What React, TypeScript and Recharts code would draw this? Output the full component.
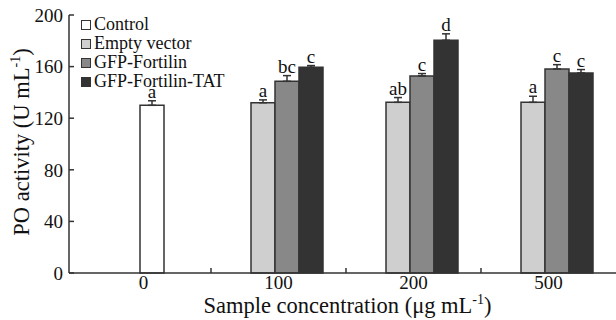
import {
  BarChart,
  Bar,
  XAxis,
  YAxis,
  ErrorBar,
  LabelList,
  Cell,
  Legend,
  Label,
} from "recharts";

const concentrations = ["0", "100", "200", "500"];

const control = [130, null, null, null];
const controlErr = [3.5, null, null, null];
const controlLetters = ["a", "", "", ""];

const emptyVector = [null, 132, 132.3, 132.3];
const emptyVectorErr = [null, 2.2, 3.7, 4.7];
const emptyVectorLetters = ["", "a", "ab", "a"];

const gfpFortilin = [null, 148.6, 152.8, 158.2];
const gfpFortilinErr = [null, 4.4, 1.8, 3.3];
const gfpFortilinLetters = ["", "bc", "c", "c"];

const gfpFortilinTat = [null, 159.5, 180.4, 155.1];
const gfpFortilinTatErr = [null, 1.3, 5, 2.6];
const gfpFortilinTatLetters = ["", "c", "d", "c"];

const yTicks = [0, 40, 80, 120, 160, 200];

const FONT = "Liberation Serif";
const INK = "#111";
const EDGE = "#333";

// control and GFP-Fortilin share the middle slot of each group
const midValues = concentrations.map((_, i) => control[i] ?? gfpFortilin[i]);
const midErr = concentrations.map((_, i) =>
  control[i] != null ? controlErr[i] : gfpFortilinErr[i]
);
const midLetters = concentrations.map(
  (_, i) => controlLetters[i] || gfpFortilinLetters[i]
);

const errPair = (e: number | null) => (e == null ? undefined : [0, e]);
const mark = (v: number | null, e: number | null, letter: string) =>
  v == null ? undefined : { v, e: e ?? 0, letter };

const data = concentrations.map((c, i) => ({
  conc: c,
  empty: emptyVector[i],
  emptyErr: errPair(emptyVectorErr[i]),
  emptyMark: mark(emptyVector[i], emptyVectorErr[i], emptyVectorLetters[i]),
  mid: midValues[i],
  midErr: errPair(midErr[i]),
  midMark: mark(midValues[i], midErr[i], midLetters[i]),
  tat: gfpFortilinTat[i],
  tatErr: errPair(gfpFortilinTatErr[i]),
  tatMark: mark(gfpFortilinTat[i], gfpFortilinTatErr[i], gfpFortilinTatLetters[i]),
}));

const legendItems = [
  { name: "Control", fill: "#ffffff" },
  { name: "Empty vector", fill: "#cfcfcf" },
  { name: "GFP-Fortilin", fill: "#888888" },
  { name: "GFP-Fortilin-TAT", fill: "#333333" },
];

const letterLabel = (props: any) => {
  const vb = props.viewBox ?? props;
  const m = props.value;
  if (!m || typeof m !== "object" || !m.letter) return null;
  const h = Math.abs(vb.height);
  const capY = vb.y - m.e * (h / m.v);
  return (
    <text
      x={vb.x + vb.width / 2}
      y={capY - 3}
      textAnchor="middle"
      fontSize={19}
      fontFamily={FONT}
      fill={INK}
    >
      {m.letter}
    </text>
  );
};

// category label plus a small inward tick on the right edge of each group
const XTick = (props: any) => {
  const { x, y, payload, index, visibleTicksCount } = props;
  const half = payload?.offset ?? 0;
  const last = index >= (visibleTicksCount ?? concentrations.length) - 1;
  return (
    <g>
      <text
        x={x}
        y={y + 3}
        dy="0.71em"
        textAnchor="middle"
        fontSize={19}
        fontFamily={FONT}
        fill={INK}
      >
        {payload.value}
      </text>
      {!last && half > 0 && (
        <line x1={x + half} x2={x + half} y1={y} y2={y - 5} stroke={EDGE} strokeWidth={1.5} />
      )}
    </g>
  );
};

const YTick = (props: any) => {
  const { x, y, payload } = props;
  return (
    <g>
      <text
        x={x}
        y={y}
        dy="0.355em"
        textAnchor="end"
        fontSize={19}
        fontFamily={FONT}
        fill={INK}
      >
        {payload.value}
      </text>
      <line x1={x + 6} x2={x + 11} y1={y} y2={y} stroke={EDGE} strokeWidth={1.5} />
    </g>
  );
};

const renderLegend = () => (
  <div style={{ fontFamily: FONT, fontSize: 18, color: INK }}>
    {legendItems.map((item) => (
      <div
        key={item.name}
        style={{ display: "flex", alignItems: "center", height: 19, lineHeight: "19px" }}
      >
        <span
          style={{
            width: 8,
            height: 8,
            background: item.fill,
            border: `1.5px solid ${EDGE}`,
            marginRight: 3,
            display: "inline-block",
          }}
        />
        <span>{item.name}</span>
      </div>
    ))}
  </div>
);

const XTitle = (props: any) => {
  const vb = props.viewBox;
  return (
    <text
      x={vb.x + vb.width / 2 + 5}
      y={313}
      textAnchor="middle"
      fontSize={22.5}
      fontFamily={FONT}
      fill={INK}
    >
      Sample concentration (μg mL
      <tspan fontSize={14} dy={-9}>
        -1
      </tspan>
      <tspan dy={9}>)</tspan>
    </text>
  );
};

const YTitle = () => (
  <text
    transform="translate(28.5,142) rotate(-90)"
    textAnchor="middle"
    fontSize={22.5}
    fontFamily={FONT}
    fill={INK}
  >
    PO activity (U mL
    <tspan fontSize={14} dy={-9}>
      -1
    </tspan>
    <tspan dy={9}>)</tspan>
  </text>
);

export default function App() {
  return (
    <div
      style={{
        position: "absolute",
        left: 0,
        top: 0,
        width: 616,
        height: 320,
        background: "#fff",
      }}
    >
      <BarChart
        width={616}
        height={320}
        data={data}
        margin={{ top: 15, right: 0, bottom: 0, left: 0 }}
        barGap={0}
      >
        <XAxis
          dataKey="conc"
          type="category"
          height={47}
          padding={{ left: 7, right: 0 }}
          tickLine={false}
          tickSize={0}
          tickMargin={0}
          axisLine={{ stroke: EDGE, strokeWidth: 1.5 }}
          tick={<XTick />}
        >
          <Label content={XTitle} />
        </XAxis>
        <YAxis
          width={69}
          domain={[0, 200]}
          ticks={yTicks}
          tickLine={false}
          tickSize={0}
          tickMargin={6}
          axisLine={{ stroke: EDGE, strokeWidth: 1.5 }}
          tick={<YTick />}
        >
          <Label content={YTitle} />
        </YAxis>
        <Legend
          layout="vertical"
          align="center"
          verticalAlign="middle"
          wrapperStyle={{ left: 81, top: 15, width: 200 }}
          content={renderLegend}
        />
        <Bar dataKey="pad" barSize={16} isAnimationActive={false} legendType="none" />
        <Bar
          dataKey="empty"
          barSize={24}
          fill="#cfcfcf"
          stroke={EDGE}
          strokeWidth={1.5}
          isAnimationActive={false}
        >
          <ErrorBar dataKey="emptyErr" direction="y" width={4} stroke={EDGE} strokeWidth={1.5} />
          <LabelList dataKey="emptyMark" content={letterLabel} />
        </Bar>
        <Bar
          dataKey="mid"
          barSize={24}
          stroke={EDGE}
          strokeWidth={1.5}
          isAnimationActive={false}
        >
          {data.map((_, i) => (
            <Cell key={i} fill={control[i] != null ? "#ffffff" : "#888888"} />
          ))}
          <ErrorBar dataKey="midErr" direction="y" width={4} stroke={EDGE} strokeWidth={1.5} />
          <LabelList dataKey="midMark" content={letterLabel} />
        </Bar>
        <Bar
          dataKey="tat"
          barSize={24}
          fill="#333333"
          stroke={EDGE}
          strokeWidth={1.5}
          isAnimationActive={false}
        >
          <ErrorBar dataKey="tatErr" direction="y" width={4} stroke={EDGE} strokeWidth={1.5} />
          <LabelList dataKey="tatMark" content={letterLabel} />
        </Bar>
      </BarChart>
    </div>
  );
}
